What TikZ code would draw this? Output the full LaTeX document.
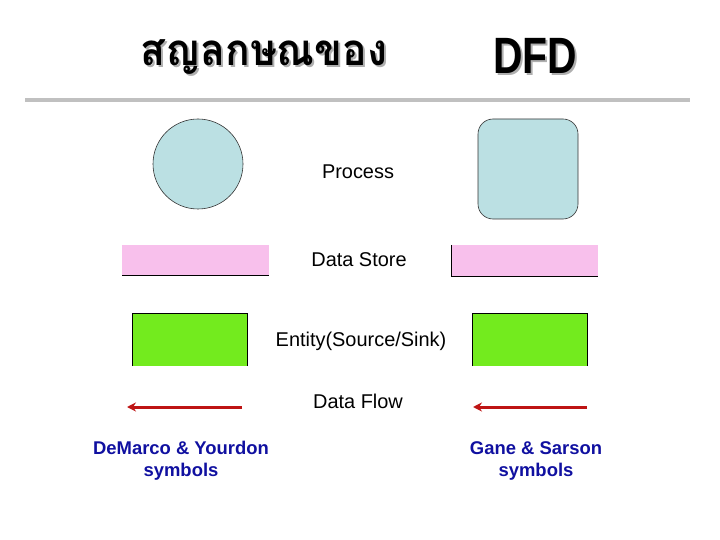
\documentclass[tikz,border=0pt]{standalone}
\usepackage{fontspec}
\setmainfont{Liberation Sans}
\newfontfamily\thaifont[Script=Thai]{Loma}
\usetikzlibrary{arrows.meta}
\definecolor{procblue}{RGB}{187,224,227}
\definecolor{storepink}{RGB}{248,192,236}
\definecolor{entgreen}{RGB}{115,235,30}
\definecolor{flowred}{RGB}{190,20,20}
\definecolor{labblue}{RGB}{16,16,160}
\definecolor{rulegray}{RGB}{192,192,192}
\definecolor{shadowgray}{RGB}{175,175,175}
\tikzset{
  lbl/.style={font=\fontsize{20}{24}\selectfont, inner sep=0pt, anchor=center},
  sym/.style={font=\bfseries\fontsize{18.5}{22}\selectfont, text=labblue, align=center, inner sep=0pt},
  flow/.style={draw=flowred, line width=3bp, -{Stealth[length=9bp,width=9bp]}},
  thaititle/.style={font=\thaifont\bfseries\fontsize{44}{50}\selectfont, inner sep=0pt, xscale=0.93},
  latintitle/.style={font=\bfseries\fontsize{41}{48}\selectfont, inner sep=0pt, yscale=1.25},
}
\begin{document}
\begin{tikzpicture}[x=1bp,y=-1bp]
\useasboundingbox (0,0) rectangle (720,540);
% title with shadow
\node[thaititle, text=shadowgray] (t1s) at (266,59) {สญลกษณของ};
\node[thaititle] (t1) at (264,57) {สญลกษณของ};
\node[latintitle, text=shadowgray] (t2s) at (537,58) {DFD};
\node[latintitle] (t2) at (535,56) {DFD};
\draw[rulegray, line width=4bp] (25,100) coordinate (r1) -- (690,100) coordinate (r2);
% process
\node[circle, draw=black!80, fill=procblue, minimum size=90bp, inner sep=0pt, line width=0.6bp] (pc) at (198,164) {};
\node[draw=black!80, fill=procblue, rounded corners=15bp, minimum width=100bp, minimum height=100bp, line width=0.6bp] (pr) at (528,169) {};
\node[lbl] (lp) at (358,172) {Process};
% data store
\fill[storepink] (122,245) rectangle (269,275);
\draw[line width=1bp] (122,275) -- (269,275);
\fill[storepink] (451,245) rectangle (598,276);
\draw[line width=1bp] (451,245) -- (451,276) -- (598,276);
\node[lbl] (ls) at (359,260) {Data Store};
% entity
\fill[entgreen] (132,313) rectangle (247,366);
\draw[line width=0.8bp] (132,366) -- (132,313) -- (247,313) -- (247,366);
\fill[entgreen] (472,313) rectangle (587,366);
\draw[line width=0.8bp] (472,366) -- (472,313) -- (587,313) -- (587,366);
\node[lbl] (le) at (361,341) {Entity(Source/Sink)};
% flows
\coordinate (f1a) at (242,407); \coordinate (f1b) at (127,407);
\coordinate (f2a) at (587,407); \coordinate (f2b) at (473,407);
\draw[flow] (f1a) -- (f1b);
\draw[flow] (f2a) -- (f2b);
\node[lbl] (lf) at (358,401) {Data Flow};
% captions
\node[sym] (c1) at (181,461) {DeMarco \& Yourdon\\symbols};
\node[sym] (c2) at (536,461) {Gane \& Sarson\\symbols};
\end{tikzpicture}
\end{document}
